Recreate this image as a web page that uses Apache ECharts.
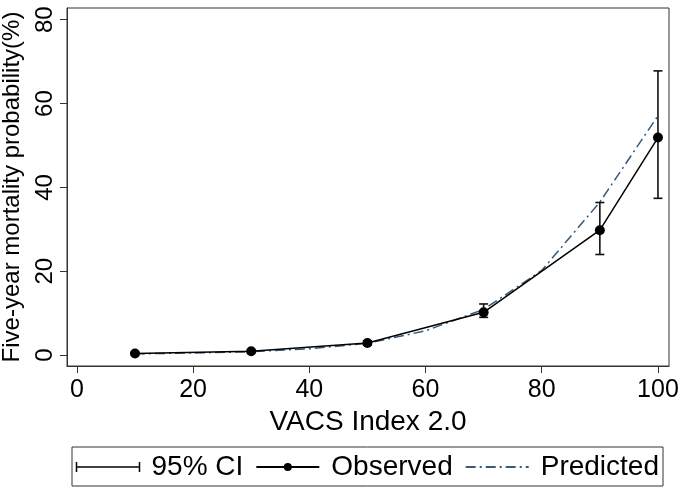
<!DOCTYPE html>
<html>
<head>
<meta charset="utf-8">
<script src="https://cdn.jsdelivr.net/npm/echarts@6/dist/echarts.min.js"></script>
<style>html,body{margin:0;padding:0;background:#fff}#c{width:680px;height:490px}</style>
</head>
<body>
<div id="c"></div>
<script>
// Data
const obsX = [10, 30, 50, 70, 90, 100];
const observed = [0.4, 0.9, 2.9, 10.2, 29.8, 51.9];
const ciLow = [0.2, 0.6, 2.4, 9.0, 24.0, 37.4];
const ciHigh = [0.6, 1.2, 3.4, 12.2, 36.4, 67.8];
const predX = [10, 20, 30, 40, 50, 60, 70, 80, 90, 100];
const predicted = [0.3, 0.5, 0.8, 1.5, 2.8, 5.8, 10.9, 20.2, 36.5, 57.1];
const xTicks = [0, 20, 40, 60, 80, 100];
const yTicks = [0, 20, 40, 60, 80];
const seriesNames = ['95% CI', 'Observed', 'Predicted'];

const FONT = 'Liberation Sans, Arial, sans-serif';
const chart = echarts.init(document.getElementById('c'), null, {renderer: 'canvas'});

const ciData = obsX.map((x, i) => [x, ciLow[i], ciHigh[i]]);
const obsData = obsX.map((x, i) => [x, observed[i]]);
const predData = predX.map((x, i) => [x, predicted[i]]);

const option = {
  animation: false,
  backgroundColor: '#fff',
  grid: {
    left: 67, right: 11, top: 8, bottom: 124,
    outerBoundsMode: 'none', containLabel: false,
    show: true, borderColor: '#333', borderWidth: 1, backgroundColor: '#fff'
  },
  xAxis: {
    type: 'value', min: -1.7, max: 101.9,
    axisLine: {show: true, onZero: false, lineStyle: {color: '#333', width: 1}},
    axisTick: {show: true, customValues: xTicks, length: 7, lineStyle: {color: '#333'}},
    axisLabel: {customValues: xTicks, fontSize: 25, fontFamily: FONT, color: '#000', margin: 12},
    splitLine: {show: false},
    name: 'VACS Index 2.0', nameLocation: 'middle', nameGap: 35,
    nameTextStyle: {fontSize: 28, fontFamily: FONT, color: '#000'}
  },
  yAxis: {
    type: 'value', min: -2.6, max: 82.8,
    axisLine: {show: true, onZero: false, lineStyle: {color: '#333', width: 1}},
    axisTick: {show: true, customValues: yTicks, length: 7, lineStyle: {color: '#333'}},
    axisLabel: {customValues: yTicks, fontSize: 24, fontFamily: FONT, color: '#000', rotate: 90, margin: 10},
    splitLine: {show: false},
    name: 'Five-year mortality probability(%)', nameLocation: 'middle', nameGap: 43, nameRotate: 90,
    nameTextStyle: {fontSize: 24, fontFamily: FONT, color: '#000'}
  },
  legend: {
    left: 72, top: 447,
    orient: 'horizontal',
    borderColor: '#333', borderWidth: 1, borderRadius: 0,
    padding: [6, 4, 5, 2],
    itemWidth: 63, itemHeight: 10, itemGap: 12,
    textStyle: {fontSize: 28, fontFamily: FONT, color: '#000', padding: [0, 0, 0, 7]},
    data: [
      {name: seriesNames[0], icon: 'path://M0,0L0,100M0,50L630,50M630,0L630,100',
       itemStyle: {color: 'none', borderColor: '#000', borderWidth: 1.5}},
      {name: seriesNames[1]},
      {name: seriesNames[2], itemStyle: {color: 'rgba(0,0,0,0)', borderWidth: 0}}
    ]
  },
  series: [
    {
      name: seriesNames[0], type: 'custom', z: 3,
      data: ciData,
      encode: {x: 0, y: [1, 2]},
      itemStyle: {color: '#000'},
      renderItem: function (params, api) {
        const x = api.value(0);
        const lo = api.coord([x, api.value(1)]);
        const hi = api.coord([x, api.value(2)]);
        const hw = 4.5;
        const st = {stroke: '#111', lineWidth: 1.6, fill: null};
        return {
          type: 'group',
          children: [
            {type: 'line', shape: {x1: lo[0], y1: lo[1], x2: hi[0], y2: hi[1]}, style: st},
            {type: 'line', shape: {x1: lo[0] - hw, y1: lo[1], x2: lo[0] + hw, y2: lo[1]}, style: st},
            {type: 'line', shape: {x1: hi[0] - hw, y1: hi[1], x2: hi[0] + hw, y2: hi[1]}, style: st}
          ]
        };
      }
    },
    {
      name: seriesNames[1], type: 'line', z: 4,
      data: obsData,
      symbol: 'circle', symbolSize: 10,
      itemStyle: {color: '#000'},
      lineStyle: {color: '#000', width: 1.5}
    },
    {
      name: seriesNames[2], type: 'line', z: 2,
      data: predData,
      symbol: 'none', smooth: false,
      itemStyle: {color: '#35597a'},
      lineStyle: {color: '#35597a', width: 1.5, type: [10, 4, 2, 4]}
    }
  ]
};
chart.setOption(option);
</script>
</body>
</html>
